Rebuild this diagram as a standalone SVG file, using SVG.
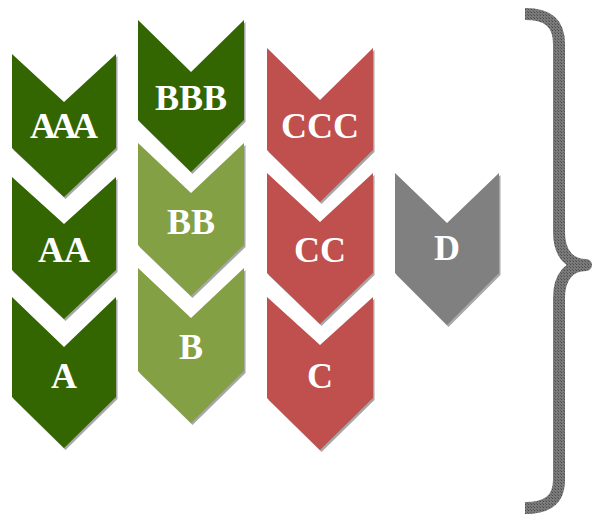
<svg xmlns="http://www.w3.org/2000/svg" width="593" height="522" viewBox="0 0 593 522">
  <defs>
    <pattern id="tex" width="3" height="3" patternUnits="userSpaceOnUse">
      <rect width="3" height="3" fill="#7a7a7a"/>
      <rect width="1" height="1" fill="#4a4a4a"/>
      <rect x="2" y="2" width="1" height="1" fill="#5a5a5a"/>
    </pattern>
  </defs>
  <style>
    .lbl { font-family: "Liberation Serif", "Times New Roman", serif; font-weight: bold; font-size: 36px; fill: #ffffff; text-anchor: middle; }
    .shd { fill: #8a8a8a; opacity: 0.75; }
    .dg { fill: #336600; }
    .lg { fill: #84A045; }
    .rd { fill: #C0504D; }
    .gy { fill: #808080; }
  </style>
  <rect width="593" height="522" fill="#ffffff"/>

  <!-- column 1 -->
  <g id="node-AAA">
    <polygon class="shd" transform="translate(1.5,2)" points="12,54 64,102 116,54 116,148 64,197 12,148"/>
    <polygon class="dg" points="12,54 64,102 116,54 116,148 64,197 12,148"/>
    <text class="lbl" x="64" y="138" textLength="68" lengthAdjust="spacing">AAA</text>
  </g>
  <g id="node-AA">
    <polygon class="shd" transform="translate(1.5,2)" points="12,177 64,224 116,177 116,270 64,319 12,270"/>
    <polygon class="dg" points="12,177 64,224 116,177 116,270 64,319 12,270"/>
    <text class="lbl" x="64" y="262">AA</text>
  </g>
  <g id="node-A">
    <polygon class="shd" transform="translate(1.5,2)" points="12,297 64,347 116,297 116,397 64,448 12,397"/>
    <polygon class="dg" points="12,297 64,347 116,297 116,397 64,448 12,397"/>
    <text class="lbl" x="64" y="388">A</text>
  </g>

  <!-- column 2 -->
  <g id="node-BBB">
    <polygon class="shd" transform="translate(1.5,2)" points="138,20 191,72 244,20 244,120 191,172 138,120"/>
    <polygon class="dg" points="138,20 191,72 244,20 244,120 191,172 138,120"/>
    <text class="lbl" x="191" y="110">BBB</text>
  </g>
  <g id="node-BB">
    <polygon class="shd" transform="translate(1.5,2)" points="138,143 191,193 244,143 244,245 191,296 138,245"/>
    <polygon class="lg" points="138,143 191,193 244,143 244,245 191,296 138,245"/>
    <text class="lbl" x="191" y="234">BB</text>
  </g>
  <g id="node-B">
    <polygon class="shd" transform="translate(1.5,2)" points="138,268 191,318 244,268 244,371 191,423 138,371"/>
    <polygon class="lg" points="138,268 191,318 244,268 244,371 191,423 138,371"/>
    <text class="lbl" x="191" y="359">B</text>
  </g>

  <!-- column 3 -->
  <g id="node-CCC">
    <polygon class="shd" transform="translate(1.5,2)" points="267,48 320,100 373,48 373,150 320,202 267,150"/>
    <polygon class="rd" points="267,48 320,100 373,48 373,150 320,202 267,150"/>
    <text class="lbl" x="320" y="138">CCC</text>
  </g>
  <g id="node-CC">
    <polygon class="shd" transform="translate(1.5,2)" points="267,173 320,222 373,173 373,273 320,324 267,273"/>
    <polygon class="rd" points="267,173 320,222 373,173 373,273 320,324 267,273"/>
    <text class="lbl" x="320" y="262">CC</text>
  </g>
  <g id="node-C">
    <polygon class="shd" transform="translate(1.5,2)" points="267,297 320,345 373,297 373,398 320,450 267,398"/>
    <polygon class="rd" points="267,297 320,345 373,297 373,398 320,450 267,398"/>
    <text class="lbl" x="320" y="388">C</text>
  </g>

  <!-- column 4 -->
  <g id="node-D">
    <polygon class="shd" transform="translate(1.5,2)" points="395,173 447,223 499,173 499,273 447,325 395,273"/>
    <polygon class="gy" points="395,173 447,223 499,173 499,273 447,325 395,273"/>
    <text class="lbl" x="447" y="260">D</text>
  </g>

  <!-- brace -->
  <g id="brace">
    <path d="M 525,14 C 547,14 559,22 559,44 L 559,232 C 559,254 570,265 586,265 C 570,265 559,276 559,298 L 559,480 C 559,500 547,508 525,508" fill="none" stroke="url(#tex)" stroke-width="12" stroke-linejoin="round"/>
  </g>
</svg>
